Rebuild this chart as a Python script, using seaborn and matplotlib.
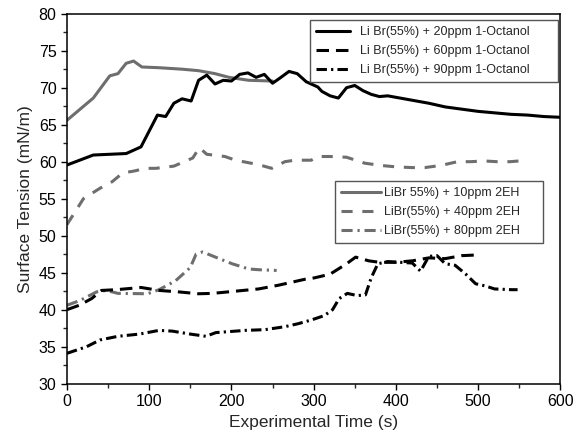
import matplotlib
matplotlib.use('Agg')
import matplotlib.pyplot as plt
import seaborn as sns
import pandas as pd
from matplotlib.ticker import MultipleLocator

# ---- data ----
t_oct20 = [0, 32, 72, 90, 110, 120, 130, 140, 151, 160, 170, 180, 190, 200, 210, 220, 230, 240, 250, 259, 270, 280,
           291, 305, 310, 320, 330, 340, 350, 360, 370, 380, 390, 400, 420, 440, 460, 480, 500, 520, 540, 560, 580, 600]
v_oct20 = [59.55, 60.9, 61.1, 62, 66.3, 66.1, 67.9, 68.5, 68.2, 71, 71.7, 70.5, 71, 70.9, 71.8, 72, 71.4, 71.8, 70.6,
           71.3, 72.2, 71.9, 70.8, 70.1, 69.5, 68.9, 68.6, 70.0, 70.3, 69.6, 69.1, 68.8, 68.9, 68.7, 68.3, 67.9, 67.4,
           67.1, 66.8, 66.6, 66.4, 66.3, 66.1, 66.0]

t_oct60 = [0, 15, 30, 42, 60, 90, 112, 136, 160, 177, 205, 233, 257, 289, 301, 320, 340, 351, 367, 380, 400, 420,
           440, 460, 480, 500]
v_oct60 = [40, 40.6, 41.5, 42.6, 42.7, 43, 42.6, 42.4, 42.15, 42.2, 42.5, 42.8, 43.3, 44.1, 44.3, 44.8, 46.2, 47.1,
           46.6, 46.4, 46.4, 46.6, 47.0, 46.9, 47.3, 47.4]

t_oct90 = [0, 24, 40, 62, 88, 112, 128, 150, 169, 181, 217, 241, 265, 281, 297, 313, 323, 331, 341, 353, 363, 370,
           378, 390, 405, 420, 430, 440, 450, 460, 472, 485, 497, 509, 520, 541, 548]
v_oct90 = [34.1, 35.0, 35.9, 36.4, 36.7, 37.2, 37.1, 36.7, 36.4, 36.9, 37.2, 37.3, 37.7, 38.1, 38.6, 39.2, 40.0,
           41.5, 42.2, 41.9, 42.0, 44.3, 46.2, 46.5, 46.4, 46.3, 45.2, 47.2, 47.3, 46.2, 46.0, 44.8, 43.5, 43.2, 42.8,
           42.7, 42.7]

t_eh10 = [0, 32, 42, 52, 62, 72, 81, 91, 112, 140, 160, 180, 197, 221, 250]
v_eh10 = [65.6, 68.6, 70.1, 71.6, 71.9, 73.3, 73.6, 72.8, 72.7, 72.5, 72.3, 71.9, 71.4, 71.0, 70.9]

t_eh40 = [0, 20, 40, 55, 68, 80, 96, 108, 130, 153, 161, 170, 192, 205, 233, 249, 265, 277, 297, 305, 320, 340,
          362, 381, 400, 420, 435, 455, 475, 491, 507, 523, 539, 550]
v_eh40 = [51.5, 55, 56.4, 57.3, 58.5, 58.7, 59.1, 59.1, 59.4, 60.5, 61.9, 61.0, 60.7, 60.2, 59.6, 59.1, 60.0, 60.2,
          60.2, 60.7, 60.7, 60.6, 59.8, 59.5, 59.3, 59.2, 59.2, 59.5, 60.0, 60.0, 60.1, 60.0, 60.0, 60.1]

t_eh80 = [0, 15, 36, 48, 62, 98, 112, 132, 150, 157, 165, 185, 201, 221, 233, 255]
v_eh80 = [40.6, 41.2, 42.4, 42.6, 42.2, 42.15, 42.7, 43.9, 45.7, 47.5, 47.8, 46.9, 46.2, 45.5, 45.4, 45.3]

labels_oct = ["Li Br(55%) + 20ppm 1-Octanol", "Li Br(55%) + 60ppm 1-Octanol", "Li Br(55%) + 90ppm 1-Octanol"]
labels_eh = ["LiBr 55%) + 10ppm 2EH", "LiBr(55%) + 40ppm 2EH", "LiBr(55%) + 80ppm 2EH"]

x_ticks = [0, 100, 200, 300, 400, 500, 600]
y_ticks = [30, 35, 40, 45, 50, 55, 60, 65, 70, 75, 80]

# ---- style ----
sns.set_style('ticks')
plt.rcParams['font.family'] = ['Liberation Sans', 'DejaVu Sans']
plt.rcParams['lines.scale_dashes'] = False

BLACK = '#000000'
GRAY = '#6e6e6e'
LW = 2.2
solid = '-'
dash_b = (0, (9, 5))
dashdot_b = (0, (7.5, 3, 1.6, 3))
dash_g = (0, (8, 7))
dashdot_g = (0, (8, 3.5, 1.6, 3.5))

fig = plt.figure(figsize=(5.75, 4.42), dpi=100)
ax = fig.add_axes([0.1165, 0.132, 0.858, 0.837])

series = [
    (t_eh10, v_eh10, GRAY, solid, labels_eh[0]),
    (t_eh40, v_eh40, GRAY, dash_g, labels_eh[1]),
    (t_eh80, v_eh80, GRAY, dashdot_g, labels_eh[2]),
    (t_oct20, v_oct20, BLACK, solid, labels_oct[0]),
    (t_oct60, v_oct60, BLACK, dash_b, labels_oct[1]),
    (t_oct90, v_oct90, BLACK, dashdot_b, labels_oct[2]),
]
handles = {}
for t, v, c, ls, lab in series:
    df = pd.DataFrame({'t': t, 'v': v})
    sns.lineplot(data=df, x='t', y='v', ax=ax, color=c, linewidth=LW, estimator=None, sort=False,
                 label=lab, legend=False)
    line = ax.lines[-1]
    line.set_linestyle(ls)
    handles[lab] = line

ax.set_xlim(0, 600)
ax.set_ylim(30, 80)
ax.set_xticks(x_ticks)
ax.set_yticks(y_ticks)
ax.xaxis.set_minor_locator(MultipleLocator(50))
ax.yaxis.set_minor_locator(MultipleLocator(2.5))
ax.tick_params(axis='both', which='major', direction='out', length=4, width=1, labelsize=11.5, colors='black')
ax.tick_params(axis='both', which='minor', direction='out', length=3, width=1)
ax.tick_params(top=False, right=False, which='both')
for s in ax.spines.values():
    s.set_visible(True)
    s.set_color('black')
    s.set_linewidth(1.1)

ax.set_xlabel('Experimental Time (s)', fontsize=12.5, labelpad=4)
ax.set_ylabel('Surface Tension (mN/m)', fontsize=12.5, labelpad=4)

leg_kw = dict(loc='upper left', mode='expand', fontsize=9, frameon=True, fancybox=False, framealpha=1,
              edgecolor='#555555', borderaxespad=0, labelspacing=0.55, borderpad=0.5)
leg1 = fig.legend(handles=[handles[l] for l in labels_oct], labels=labels_oct,
                  bbox_to_anchor=(0.539, 0.80, 0.431, 0.155), handlelength=2.7, handletextpad=0.8, **leg_kw)
leg1.get_frame().set_linewidth(1.0)
leg2 = fig.legend(handles=[handles[l] for l in labels_eh], labels=labels_eh,
                  bbox_to_anchor=(0.583, 0.45, 0.362, 0.14), handlelength=3.2, handletextpad=0.2, **leg_kw)
leg2.get_frame().set_linewidth(1.0)

fig.savefig('out.png', dpi=100)
